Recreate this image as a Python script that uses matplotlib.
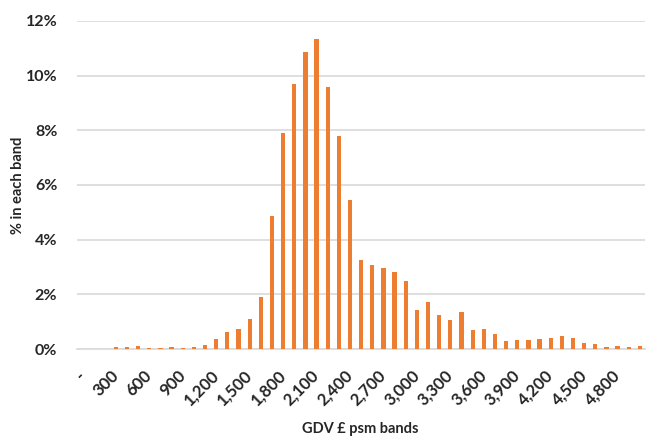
import matplotlib.pyplot as plt
import numpy as np

# --- Data ---
bands = list(range(0, 5100, 100))  # GDV £ psm band starts
share = [0.00, 0.00, 0.00, 0.06, 0.06, 0.10, 0.05, 0.05, 0.07, 0.04,
         0.07, 0.15, 0.37, 0.64, 0.73, 1.09, 1.90, 4.88, 7.90, 9.71,
         10.87, 11.33, 9.59, 7.79, 5.44, 3.27, 3.09, 2.95, 2.81, 2.48,
         1.44, 1.71, 1.26, 1.06, 1.36, 0.71, 0.73, 0.56, 0.31, 0.32,
         0.34, 0.37, 0.42, 0.49, 0.39, 0.21, 0.17, 0.06, 0.11, 0.06,
         0.11]
y_ticks = [0, 2, 4, 6, 8, 10, 12]

plt.rcParams['font.family'] = ['Lato', 'DejaVu Sans']
txt = "#262626"

# --- Plot ---
fig = plt.figure(figsize=(6.52, 4.41), dpi=100)
ax = fig.add_axes([0.1178, 0.2086, 0.8722, 0.7438])

x = np.arange(len(bands))
ax.bar(x, share, width=0.38, color="#ED7D31", zorder=3)

ax.set_xlim(-0.5, len(bands) - 0.5)
ax.set_ylim(0, 12)
ax.set_yticks(y_ticks)
ax.set_yticklabels([f"{v}%" for v in y_ticks], fontsize=11.5, fontweight='bold', color=txt)
ax.yaxis.grid(True, color="#D9D9D9", linewidth=1.2, zorder=0)

tick_idx = x[::3]
tick_lab = ["-" if bands[i] == 0 else f"{bands[i]:,}" for i in tick_idx]
ax.set_xticks(tick_idx)
ax.set_xticklabels(tick_lab, rotation=45, ha='right', va='center',
                   rotation_mode='anchor', fontsize=12, fontweight='bold', color=txt)

ax.tick_params(axis='both', length=0)
ax.tick_params(axis='y', pad=14)
ax.tick_params(axis='x', pad=17)
for s in ['top', 'right', 'left']:
    ax.spines[s].set_visible(False)
ax.spines['bottom'].set_color("#D9D9D9")
ax.spines['bottom'].set_linewidth(1.2)

ax.set_xlabel("GDV £ psm bands", fontsize=10.5, fontweight='bold', color=txt)
ax.set_ylabel("% in each band", fontsize=10.5, fontweight='bold', color=txt)
ax.xaxis.set_label_coords(0.498, -0.243)
ax.yaxis.set_label_coords(-0.103, 0.5)
ax.xaxis.label.set_va('center')
ax.yaxis.label.set_va('center')

# --- Render ---
fig.savefig("out.png", dpi=100)
plt.close()
